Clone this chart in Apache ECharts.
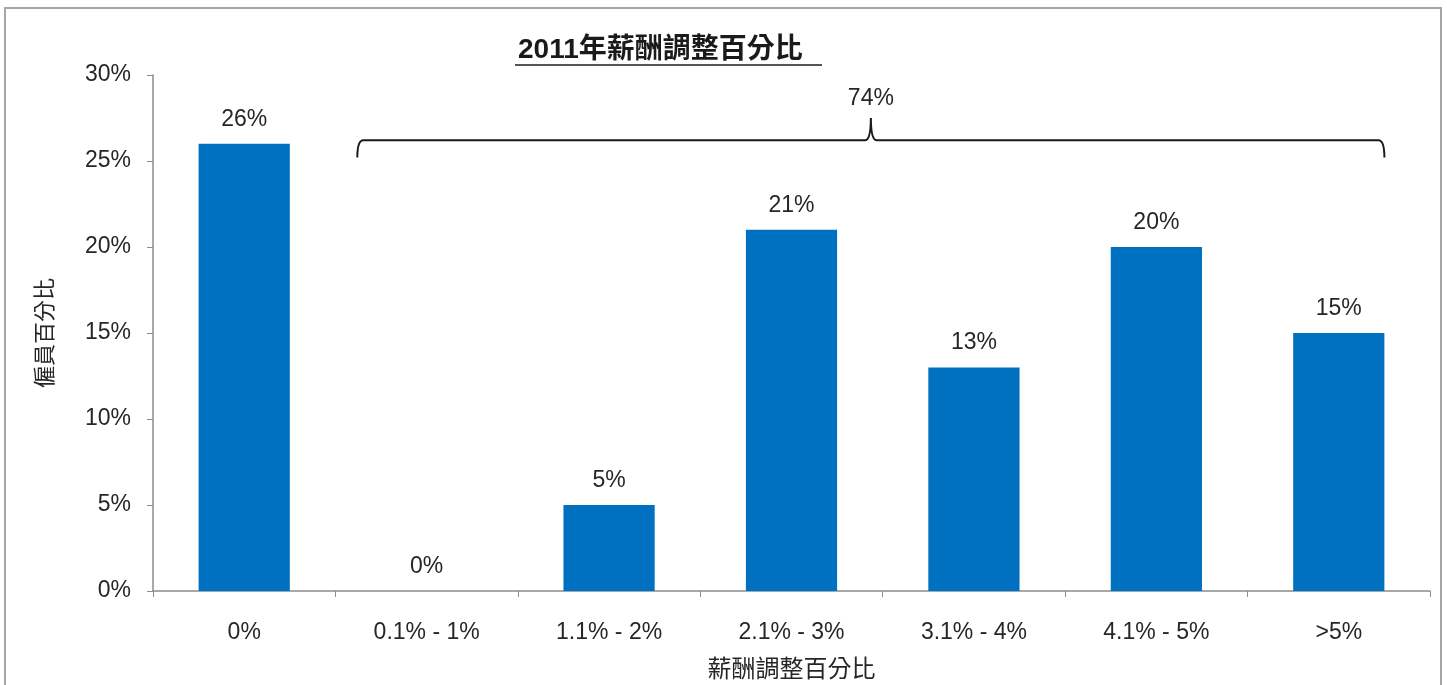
<!DOCTYPE html>
<html>
<head>
<meta charset="utf-8">
<script src="https://cdn.jsdelivr.net/npm/echarts@6/dist/echarts.min.js"></script>
<style>
html,body{margin:0;padding:0;background:#fff;}
#chart{width:1447px;height:685px;}
</style>
</head>
<body>
<div id="chart"></div>
<script>
// ---- data ----
const categories = ['0%', '0.1% - 1%', '1.1% - 2%', '2.1% - 3%', '3.1% - 4%', '4.1% - 5%', '>5%'];
const values = [26, 0, 5, 21, 13, 20, 15];
const yTicks = [0, 5, 10, 15, 20, 25, 30];
const braceFrom = 1;      // first category covered by the brace
const braceTo = 6;        // last category covered by the brace
const braceTotal = 74;    // percentage shown above the brace
const titleText = '2011年薪酬調整百分比';
const xName = '薪酬調整百分比';
const yName = '僱員百分比';

const FONT = '"Liberation Sans", Arial, "Noto Sans CJK TC", sans-serif';
const chart = echarts.init(document.getElementById('chart'));

const option = {
  backgroundColor: '#fff',
  animation: false,
  title: {
    text: titleText,
    left: 513,
    top: 31,
    textStyle: { fontFamily: FONT, fontSize: 28, fontWeight: 'bold', color: '#1a1a1a' }
  },
  graphic: [
    { type: 'rect', shape: { x: 5, y: 8, width: 1436, height: 700 },
      style: { fill: 'none', stroke: '#a6a6a6', lineWidth: 2 }, silent: true },
    { type: 'line', shape: { x1: 515, y1: 65, x2: 822, y2: 65 },
      style: { stroke: '#555', lineWidth: 2 }, silent: true }
  ],
  grid: { left: 153, right: 17, top: 75, bottom: 94, outerBoundsMode: 'none', containLabel: false },
  xAxis: {
    type: 'category',
    data: categories,
    name: xName,
    nameLocation: 'middle',
    nameGap: 67,
    nameTextStyle: { fontFamily: FONT, fontSize: 24, color: '#262626' },
    axisLine: { lineStyle: { color: '#8c8c8c', width: 1.5 } },
    axisTick: { show: true, length: 6, lineStyle: { color: '#8c8c8c' } },
    axisLabel: { fontFamily: FONT, fontSize: 23, color: '#262626', margin: 30, interval: 0 }
  },
  yAxis: {
    type: 'value',
    min: yTicks[0],
    max: yTicks[yTicks.length - 1],
    interval: yTicks[1] - yTicks[0],
    name: yName,
    nameLocation: 'middle',
    nameGap: 96,
    nameRotate: 90,
    nameTextStyle: { fontFamily: FONT, fontSize: 22, color: '#262626' },
    axisLine: { show: true, lineStyle: { color: '#8c8c8c', width: 1.5 } },
    axisTick: { show: true, length: 6, lineStyle: { color: '#8c8c8c' } },
    splitLine: { show: false },
    axisLabel: { fontFamily: FONT, fontSize: 23, color: '#262626', margin: 22, formatter: '{value}%' }
  },
  series: [
    {
      type: 'bar',
      data: values,
      barWidth: '50%',
      itemStyle: { color: '#0070C0' },
      label: {
        show: true, position: 'top', distance: 13,
        formatter: '{c}%', fontFamily: FONT, fontSize: 23, color: '#262626'
      }
    },
    {
      type: 'custom',
      silent: true,
      data: [[braceFrom, braceTo, braceTotal]],
      encode: { x: [0, 1] },
      renderItem: function (params, api) {
        const band = api.size([1, 0])[0];
        const yMid = api.coord([0, 26.2])[1];
        const yTip = api.coord([0, 27.5])[1];
        const yEnd = api.coord([0, 25.2])[1];
        const yLab = api.coord([0, 28.6])[1];
        const xL = api.coord([api.value(0), 0])[0] - 0.38 * band;
        const xR = api.coord([api.value(1), 0])[0] + 0.25 * band;
        const xM = (xL + xR) / 2;
        const r = 6;
        const d = 'M' + xL + ' ' + yEnd +
          ' Q' + xL + ' ' + yMid + ' ' + (xL + r) + ' ' + yMid +
          ' L' + (xM - r) + ' ' + yMid +
          ' Q' + xM + ' ' + yMid + ' ' + xM + ' ' + yTip +
          ' Q' + xM + ' ' + yMid + ' ' + (xM + r) + ' ' + yMid +
          ' L' + (xR - r) + ' ' + yMid +
          ' Q' + xR + ' ' + yMid + ' ' + xR + ' ' + yEnd;
        return {
          type: 'group',
          children: [
            { type: 'path', shape: { pathData: d },
              style: { fill: 'none', stroke: '#1a1a1a', lineWidth: 2 } },
            { type: 'text', x: xM, y: yLab,
              style: { text: api.value(2) + '%', fontFamily: FONT, fontSize: 23,
                       fill: '#262626', align: 'center', verticalAlign: 'middle' } }
          ]
        };
      }
    }
  ]
};
chart.setOption(option);
</script>
</body>
</html>
